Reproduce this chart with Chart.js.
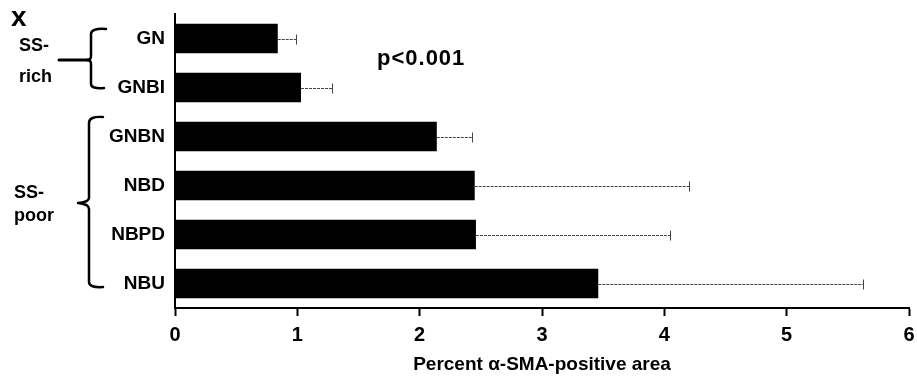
<!DOCTYPE html>
<html>
<head>
<meta charset="utf-8">
<script src="https://cdn.jsdelivr.net/npm/chart.js@4.4.1/dist/chart.umd.min.js"></script>
<style>
  html, body { margin: 0; padding: 0; background: #fff; }
  #wrap { width: 917px; height: 379px; }
</style>
</head>
<body>
<div id="wrap"><canvas id="c" width="917" height="379"></canvas></div>
<script>
const categories = ['GN', 'GNBI', 'GNBN', 'NBD', 'NBPD', 'NBU'];
const meanValues = [0.84, 1.03, 2.14, 2.45, 2.46, 3.46];
const errorValues = [0.15, 0.25, 0.29, 1.75, 1.59, 2.16];
const xTickValues = [0, 1, 2, 3, 4, 5, 6];
const groupLabels = [['SS-', 'rich'], ['SS-', 'poor']];
const pValueText = 'p<0.001';
const xAxisTitle = 'Percent α-SMA-positive area';
const panelLetter = 'x';

const FONT = '"Liberation Sans", Arial, Helvetica, sans-serif';

const overlay = {
  id: 'overlay',
  afterDatasetsDraw(chart) {
    const ctx = chart.ctx;
    const xs = chart.scales.x, ys = chart.scales.y;
    ctx.save();
    ctx.strokeStyle = '#444';
    ctx.lineWidth = 1;
    meanValues.forEach((m, i) => {
      const y = Math.round(ys.getPixelForValue(i)) + 0.5;
      const x0 = xs.getPixelForValue(m);
      const x1 = Math.round(xs.getPixelForValue(m + errorValues[i])) + 0.5;
      ctx.setLineDash([3, 1]);
      ctx.beginPath();
      ctx.moveTo(x0, y);
      ctx.lineTo(x1, y);
      ctx.stroke();
      ctx.setLineDash([]);
      ctx.beginPath();
      ctx.moveTo(x1, y - 5);
      ctx.lineTo(x1, y + 5);
      ctx.stroke();
    });
    ctx.restore();
  },
  afterDraw(chart) {
    const ctx = chart.ctx;
    ctx.save();
    ctx.fillStyle = '#000';
    ctx.strokeStyle = '#000';
    ctx.textBaseline = 'alphabetic';
    ctx.textAlign = 'left';
    ctx.font = 'bold 28px ' + FONT;
    ctx.fillText(panelLetter, 11, 26);
    ctx.font = 'bold 18px ' + FONT;
    ctx.fillText(groupLabels[0][0], 19, 51);
    ctx.fillText(groupLabels[0][1], 19, 82);
    ctx.fillText(groupLabels[1][0], 14, 198);
    ctx.fillText(groupLabels[1][1], 14, 221);
    ctx.font = 'bold 22px ' + FONT;
    if ('letterSpacing' in ctx) ctx.letterSpacing = '1px';
    ctx.fillText(pValueText, 377, 65);
    if ('letterSpacing' in ctx) ctx.letterSpacing = '0px';

    ctx.lineWidth = 2.5;
    ctx.lineCap = 'round';
    ctx.lineJoin = 'round';
    ctx.beginPath();
    ctx.moveTo(106, 29);
    ctx.quadraticCurveTo(91, 28, 91, 34);
    ctx.lineTo(91, 56);
    ctx.quadraticCurveTo(91, 60, 87, 60);
    ctx.quadraticCurveTo(91, 60, 91, 64);
    ctx.lineTo(91, 84);
    ctx.quadraticCurveTo(91, 89, 104, 88);
    ctx.stroke();
    ctx.lineWidth = 3;
    ctx.beginPath();
    ctx.moveTo(59, 60);
    ctx.lineTo(88, 60);
    ctx.stroke();
    ctx.lineWidth = 2.5;
    ctx.beginPath();
    ctx.moveTo(103, 117);
    ctx.quadraticCurveTo(89, 116, 89, 123);
    ctx.lineTo(89, 198);
    ctx.quadraticCurveTo(89, 202, 78, 203);
    ctx.quadraticCurveTo(89, 204, 89, 209);
    ctx.lineTo(89, 282);
    ctx.quadraticCurveTo(89, 288, 103, 287);
    ctx.stroke();
    ctx.restore();
  }
};

new Chart(document.getElementById('c'), {
  type: 'bar',
  data: {
    labels: categories,
    datasets: [{
      data: meanValues,
      backgroundColor: '#000',
      borderWidth: 0,
      barPercentage: 0.6,
      categoryPercentage: 1.0
    }]
  },
  options: {
    indexAxis: 'y',
    responsive: false,
    animation: false,
    devicePixelRatio: 1,
    layout: { padding: { left: 0, right: 8, top: 14, bottom: 0 } },
    plugins: {
      legend: { display: false },
      tooltip: { enabled: false }
    },
    scales: {
      y: {
        type: 'category',
        afterFit(s) { s.width = 175; s.paddingTop = 0; s.paddingBottom = 0; },
        grid: { display: false, drawTicks: false },
        border: { display: true, color: '#000', width: 2 },
        ticks: {
          color: '#000',
          padding: 10,
          font: { family: FONT, size: 19, weight: 'bold' }
        }
      },
      x: {
        type: 'linear',
        min: 0,
        max: 6,
        afterFit(s) { s.height = 71; s.paddingLeft = 0; s.paddingRight = 0; },
        afterBuildTicks(s) { s.ticks = xTickValues.map(v => ({ value: v })); },
        grid: {
          drawOnChartArea: false,
          drawTicks: true,
          tickLength: 8,
          tickWidth: 2,
          tickColor: '#000'
        },
        border: { display: true, color: '#000', width: 2 },
        ticks: {
          color: '#000',
          padding: 7,
          font: { family: FONT, size: 20, weight: 'bold' }
        },
        title: {
          display: true,
          text: xAxisTitle,
          color: '#000',
          font: { family: FONT, size: 19, weight: 'bold' },
          padding: { top: 0, bottom: 3 }
        }
      }
    }
  },
  plugins: [overlay]
});
</script>
</body>
</html>
